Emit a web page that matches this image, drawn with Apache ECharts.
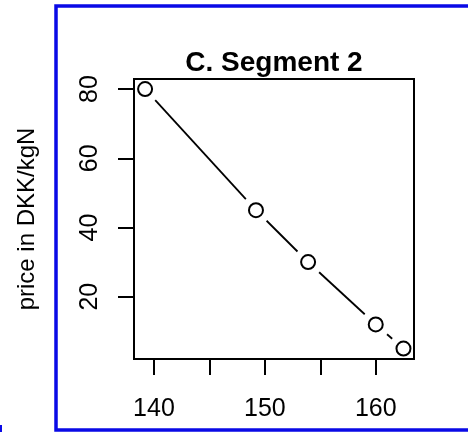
<!DOCTYPE html>
<html>
<head>
<meta charset="utf-8" />
<title>C. Segment 2</title>
<script type="text/javascript" src="https://cdn.jsdelivr.net/npm/echarts@6/dist/echarts.min.js"></script>
</head>
<body style="margin:0;background-color:white;">
<div id="main" style="width:468px;height:432px;background-color:white;"></div>
<script type="text/javascript">
    // data
    var quantity = [139.2, 149.2, 153.9, 160.0, 162.5];
    var price = [80, 45, 30, 12, 5];
    var xTicks = [140, 145, 150, 155, 160];
    var xLabels = [140, 150, 160];
    var yTicks = [20, 40, 60, 80];

    var points = [];
    for (var i = 0; i < quantity.length; i++) {
        points.push([quantity[i], price[i]]);
    }

    // R type="b": segments stop short of each point
    var GAP = 15;
    function renderGap(params, api) {
        var i = params.dataIndex;
        if (i >= quantity.length - 1) return null;
        var a = api.coord([quantity[i], price[i]]);
        var b = api.coord([quantity[i + 1], price[i + 1]]);
        var dx = b[0] - a[0], dy = b[1] - a[1];
        var len = Math.sqrt(dx * dx + dy * dy);
        if (len <= 2 * GAP) return null;
        var ux = dx / len, uy = dy / len;
        return {
            type: 'line',
            shape: {
                x1: a[0] + ux * GAP, y1: a[1] + uy * GAP,
                x2: b[0] - ux * GAP, y2: b[1] - uy * GAP
            },
            style: {stroke: '#000', lineWidth: 1.8}
        };
    }

    var font = 'Liberation Sans, Arial, sans-serif';
    var myChart = echarts.init(document.getElementById('main'));
    myChart.setOption({
        animation: false,
        backgroundColor: '#fff',
        grid: {
            left: 134, top: 79, width: 280, height: 280,
            containLabel: false,
            outerBoundsMode: 'none',
            show: true, borderColor: '#000', borderWidth: 2,
            backgroundColor: 'transparent'
        },
        xAxis: {
            type: 'value',
            min: 138.2,
            max: 163.45,
            splitLine: {show: false},
            axisLine: {show: false},
            axisTick: {show: true, length: 16, customValues: xTicks,
                lineStyle: {color: '#000', width: 2}},
            axisLabel: {customValues: xLabels, margin: 38, fontSize: 25,
                fontFamily: font, color: '#000'}
        },
        yAxis: {
            type: 'value',
            min: 2,
            max: 82.9,
            name: 'price in DKK/kgN',
            nameLocation: 'middle',
            nameRotate: 90,
            nameGap: 95,
            nameTextStyle: {fontSize: 24, fontFamily: font, color: '#000'},
            splitLine: {show: false},
            axisLine: {show: false},
            axisTick: {show: true, length: 16, customValues: yTicks,
                lineStyle: {color: '#000', width: 2}},
            axisLabel: {customValues: yTicks, rotate: 90, margin: 31, fontSize: 25,
                fontFamily: font, color: '#000'}
        },
        graphic: [
            {type: 'rect', shape: {x: 56, y: 6, width: 430, height: 424},
                style: {fill: 'none', stroke: '#0a0ae6', lineWidth: 3.5}},
            {type: 'line', shape: {x1: 1, y1: 425, x2: 1, y2: 432},
                style: {stroke: '#0a0ae6', lineWidth: 2}},
            {type: 'text', x: 274, y: 63,
                style: {text: 'C. Segment 2', fontSize: 28, fontWeight: 'bold',
                    fontFamily: font, fill: '#000', align: 'center', verticalAlign: 'middle'}}
        ],
        series: [
            {
                type: 'custom',
                renderItem: renderGap,
                data: points,
                silent: true
            },
            {
                type: 'scatter',
                data: points,
                symbol: 'emptyCircle',
                symbolSize: 14,
                itemStyle: {color: '#000', borderColor: '#000', borderWidth: 2, opacity: 1}
            }
        ]
    });
</script>
</body>
</html>
